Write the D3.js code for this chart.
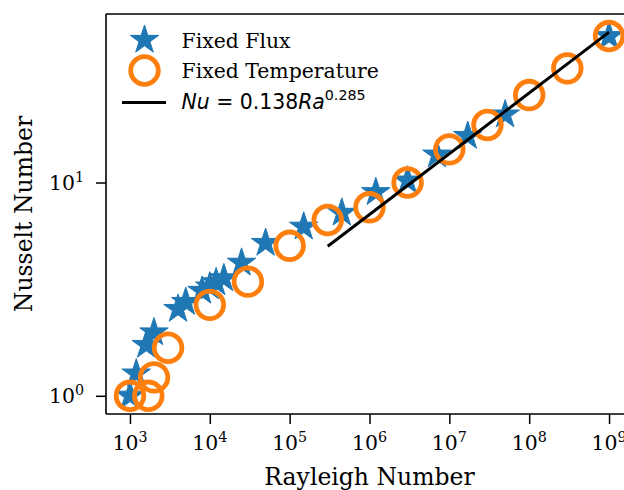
<!DOCTYPE html>
<html>
<head>
<meta charset="utf-8">
<script src="https://cdn.jsdelivr.net/npm/d3@7"></script>
<style>
  body { margin: 0; background: #fff; }
  svg { display: block; }
  text { font-family: "DejaVu Serif", serif; fill: #000; }
</style>
</head>
<body>
<svg id="chart" width="624" height="490"></svg>
<script>
// fixed flux runs (stars)
var fluxRa = [1e3, 1.2e3, 1.6e3, 2e3, 4e3, 5e3, 8e3, 1e4, 1.2e4, 1.5e4, 2.5e4, 5e4, 1.5e5, 4.5e5, 1.2e6, 3e6, 7e6, 1.7e7, 5e7, 1e9]
var fluxNu = [1.0, 1.27, 1.73, 1.98, 2.55, 2.75, 3.1, 3.25, 3.4, 3.55, 4.2, 5.2, 6.2, 7.2, 9.0, 10.2, 13.5, 16.5, 20.8, 48.5]

// fixed temperature runs (circles)
var tempRa = [1e3, 1.7e3, 2e3, 3e3, 1e4, 3e4, 1e5, 3e5, 1e6, 3e6, 1e7, 3e7, 1e8, 3e8, 1e9]
var tempNu = [1.0, 1.0, 1.22, 1.68, 2.67, 3.43, 5.05, 6.67, 7.65, 10.0, 14.3, 18.6, 25.7, 34.3, 48.6]

// power law fit Nu = 0.138 Ra^0.285
var fitCoef = 0.138
var fitExp = 0.285
var fitRa = [3e5, 1e9]

var xTicks = [1e3, 1e4, 1e5, 1e6, 1e7, 1e8, 1e9]
var yTicks = [1, 10]

var blue = '#1f77b4'
var orange = '#ff7f0e'

var svg = d3.select('#chart')

// log limits with matplotlib style 5% margins
var x = d3.scaleLog().domain([Math.pow(10, 2.7), Math.pow(10, 9.3)]).range([106, 633])
var y = d3.scaleLog().domain([Math.pow(10, -0.0853), Math.pow(10, 1.790)]).range([414, 14])

function minorTicks(scale) {
    var d = scale.domain()
    var lo = Math.floor(Math.log10(d[0])), hi = Math.ceil(Math.log10(d[1]))
    var out = []
    for (var e = lo; e <= hi; e++) {
        for (var m = 2; m <= 9; m++) {
            var v = m * Math.pow(10, e)
            if (v >= d[0] && v <= d[1]) out.push(v)
        }
    }
    return out
}

function starPath(R) {
    var r = R * 0.381966
    var pts = []
    for (var i = 0; i < 10; i++) {
        var a = Math.PI / 2 + i * Math.PI / 5
        var rr = i % 2 == 0 ? R : r
        pts.push([rr * Math.cos(a), -rr * Math.sin(a)])
    }
    return 'M' + pts.join('L') + 'Z'
}

var tickFont = 20.4
var labelFont = 23.5
var legendFont = 20.4

function powLabel(sel, exp) {
    sel.append('tspan').text('10')
    sel.append('tspan').attr('dy', -0.4 * tickFont).attr('font-size', (0.7 * tickFont) + 'px').text(exp)
}

// data layers
var g = svg.append('g')

g.selectAll('path.star')
    .data(fluxRa.map(function(d, i) { return [d, fluxNu[i]] }))
    .enter()
    .append('path')
    .attr('class', 'star')
    .attr('d', starPath(15))
    .attr('transform', function(d) { return 'translate(' + x(d[0]) + ',' + y(d[1]) + ')' })
    .attr('fill', blue)
    .attr('stroke', blue)
    .attr('stroke-width', 1)

g.selectAll('circle.temp')
    .data(tempRa.map(function(d, i) { return [d, tempNu[i]] }))
    .enter()
    .append('circle')
    .attr('class', 'temp')
    .attr('cx', function(d) { return x(d[0]) })
    .attr('cy', function(d) { return y(d[1]) })
    .attr('r', 13.8)
    .attr('fill', 'none')
    .attr('stroke', orange)
    .attr('stroke-width', 4.8)

var fitLine = d3.line()
    .x(function(d) { return x(d) })
    .y(function(d) { return y(fitCoef * Math.pow(d, fitExp)) })

g.append('path')
    .attr('d', fitLine(fitRa))
    .attr('fill', 'none')
    .attr('stroke', '#000')
    .attr('stroke-width', 3)

// axes
var xAxis = svg.append('g').attr('transform', 'translate(0,414)')
xAxis.call(d3.axisBottom(x).tickValues(minorTicks(x)).tickSize(5).tickFormat(''))
xAxis.call(d3.axisBottom(x).tickValues(xTicks).tickSize(10).tickFormat(''))
xAxis.selectAll('.tick line').attr('stroke-width', 1.5)
xAxis.selectAll('.domain').remove()

var yAxis = svg.append('g').attr('transform', 'translate(106,0)')
yAxis.call(d3.axisLeft(y).tickValues(minorTicks(y)).tickSize(5.5).tickFormat(''))
yAxis.call(d3.axisLeft(y).tickValues(yTicks).tickSize(10).tickFormat(''))
yAxis.selectAll('.tick line').attr('stroke-width', 1.5)
yAxis.selectAll('.domain').remove()

// spines (right one falls outside the cropped picture)
svg.append('path')
    .attr('d', 'M106,414H633M106,414V14M106,14H633')
    .attr('fill', 'none')
    .attr('stroke', '#000')
    .attr('stroke-width', 1.6)

// tick labels
xTicks.forEach(function(t) {
    var lab = svg.append('text')
        .attr('x', x(t))
        .attr('y', 450)
        .attr('text-anchor', 'middle')
        .attr('font-size', tickFont + 'px')
    powLabel(lab, Math.round(Math.log10(t)))
})

yTicks.forEach(function(t) {
    var lab = svg.append('text')
        .attr('x', 84)
        .attr('y', y(t) + 7.5)
        .attr('text-anchor', 'end')
        .attr('font-size', tickFont + 'px')
    powLabel(lab, Math.round(Math.log10(t)))
})

svg.append('text')
    .attr('x', 369.5)
    .attr('y', 485)
    .attr('text-anchor', 'middle')
    .attr('font-size', labelFont + 'px')
    .text('Rayleigh Number')

svg.append('text')
    .attr('transform', 'translate(32,214) rotate(-90)')
    .attr('text-anchor', 'middle')
    .attr('font-size', labelFont + 'px')
    .text('Nusselt Number')

// legend
var leg = svg.append('g')
leg.append('path').attr('d', starPath(15)).attr('transform', 'translate(144.5,40)')
    .attr('fill', blue).attr('stroke', blue).attr('stroke-width', 1)
leg.append('circle').attr('cx', 144.5).attr('cy', 70.5).attr('r', 13.8)
    .attr('fill', 'none').attr('stroke', orange).attr('stroke-width', 4.8)
leg.append('line').attr('x1', 122).attr('x2', 166).attr('y1', 102.5).attr('y2', 102.5)
    .attr('stroke', '#000').attr('stroke-width', 3)

leg.append('text').attr('x', 181.5).attr('y', 47.5).attr('font-size', legendFont + 'px').text('Fixed Flux')
leg.append('text').attr('x', 181.5).attr('y', 77.5).attr('font-size', legendFont + 'px').text('Fixed Temperature')

var eq = leg.append('text').attr('x', 181.5).attr('y', 108.5).attr('font-size', legendFont + 'px')
    .style('font-family', '"DejaVu Sans", sans-serif')
eq.append('tspan').attr('font-style', 'italic').text('Nu')
eq.append('tspan').text(' = 0.' + '138')
eq.append('tspan').attr('font-style', 'italic').text('Ra')
eq.append('tspan').attr('dy', -0.42 * legendFont).attr('font-size', (0.7 * legendFont) + 'px').text(String(fitExp))
</script>
</body>
</html>
